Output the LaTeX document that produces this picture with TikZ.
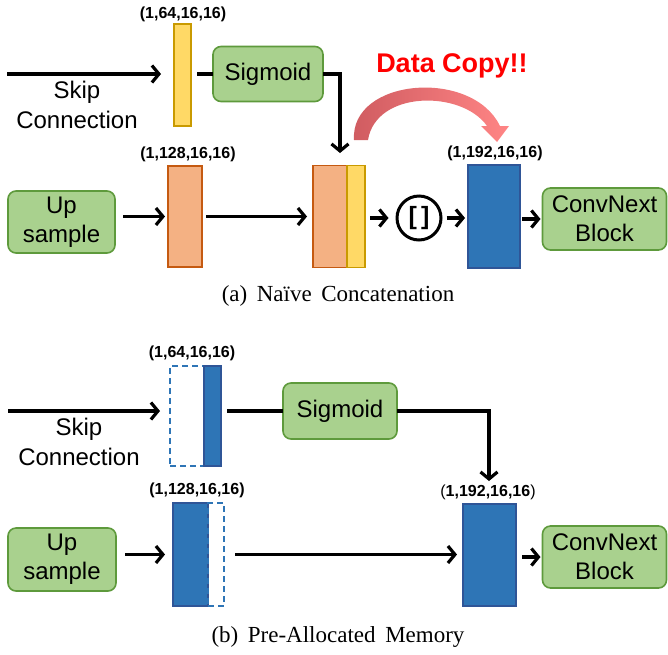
\documentclass[tikz,border=0pt]{standalone}
\usepackage{fontspec}
\setmainfont{Liberation Sans}
\newfontfamily\capfont{Liberation Serif}
\usetikzlibrary{arrows.meta}
\definecolor{gfill}{HTML}{A9D18E}
\definecolor{gline}{HTML}{5E9A3C}
\definecolor{yfill}{HTML}{FFD966}
\definecolor{yline}{HTML}{C99A00}
\definecolor{ofill}{HTML}{F4B183}
\definecolor{oline}{HTML}{C55A11}
\definecolor{bfill}{HTML}{2E75B6}
\definecolor{bline}{HTML}{2F5597}
\definecolor{redA}{HTML}{CF5B60}
\definecolor{redB}{HTML}{FF8585}
\tikzset{
  box/.style={draw, rectangle, inner sep=0pt, outer sep=0pt, line width=1.6pt},
  greenbox/.style={box, fill=gfill, draw=gline, rounded corners=8pt, align=center,
     font=\fontsize{24}{29}\selectfont},
  ybar/.style={box, fill=yfill, draw=yline},
  obar/.style={box, fill=ofill, draw=oline},
  bbar/.style={box, fill=bfill, draw=bline},
  dbar/.style={box, draw=bfill, dashed, dash pattern=on 6pt off 4pt},
  arr/.style={line width=3.2pt, -{Straight Barb[length=7pt,width=17pt]}},
  conn/.style={line width=3.2pt},
  dimlab/.style={font=\bfseries\fontsize{16}{18}\selectfont, inner sep=0pt},
  txt/.style={align=center, font=\fontsize{24}{30}\selectfont, inner sep=0pt},
  caplab/.style={font=\capfont\fontsize{23}{25}\selectfont, inner sep=0pt},
}
\begin{document}
\begin{tikzpicture}[x=1pt,y=-1pt]
\useasboundingbox (0,0) rectangle (668,654);
% ---------- (a) ----------
\node[ybar, minimum width=17pt, minimum height=102pt] (yel) at (182.5,75) {};
\node[greenbox, minimum width=110pt, minimum height=55pt] (sig1) at (268,74) {Sigmoid};
\node[obar, minimum width=34pt, minimum height=101pt] (org1) at (185,216.5) {};
\node[greenbox, minimum width=107pt, minimum height=62pt] (up1) at (61.5,222) {Up\\sample};
\node[obar, minimum width=34pt, minimum height=102pt] (catO) at (330,216.5) {};
\node[ybar, minimum width=18pt, minimum height=102pt] (catY) at (356,216.5) {};
\node[draw, circle, line width=3pt, minimum size=44pt, inner sep=0pt,
      font=\bfseries\fontsize{25}{25}\selectfont] (circ) at (419,218) {[\,]};
\node[bbar, minimum width=52pt, minimum height=103pt] (blue1) at (494,216.5) {};
\node[greenbox, minimum width=124pt, minimum height=62pt] (conv1) at (604.5,219) {ConvNext\\Block};

\coordinate (s1) at (7,74);
\coordinate (k1) at (340,153);
\draw[arr, shorten >=13pt] (s1) -- (s1 -| yel.west);
\draw[conn, shorten <=6pt] (yel.east |- sig1.west) -- (sig1.west);
\draw[arr] (sig1.east) -| (k1);
\draw[arr, shorten <=8pt, shorten >=3pt] (up1.east |- org1.west) -- (org1.west);
\draw[arr, shorten <=4pt, shorten >=6pt] (org1.east) -- (catO.west);
\draw[arr, shorten <=5pt, shorten >=7pt] (catY.east |- circ.west) -- (circ.west);
\draw[arr, shorten <=4pt, shorten >=3pt] (circ.east) -- (blue1.west |- circ.east);
\draw[arr, shorten <=2pt, shorten >=2pt] (blue1.east |- conv1.west) -- (conv1.west);

\node[dimlab] (la1) at (183,14) {(1,64,16,16)};
\node[dimlab] (la2) at (188,154) {(1,128,16,16)};
\node[dimlab] (la3) at (495,153) {(1,192,16,16)};
\node[txt] (sk1) at (77,105) {Skip\\Connection};
\node[font=\bfseries\fontsize{27}{30}\selectfont, text=red, inner sep=0pt] (dc) at (452,66) {Data Copy!!};
\shade[left color=redA, right color=redB]
  (354,140) .. controls (350,78) and (472,68) .. (500,126) -- (509,126) -- (497,142)
  -- (481,126) -- (487,126) .. controls (462,90) and (376,90) .. (368,140) -- cycle;
\node[caplab] (capa) at (338,296) {(a)\, Naïve\, Concatenation};

% ---------- (b) ----------
\node[dbar, minimum width=34pt, minimum height=100pt] (dash1) at (187,416) {};
\node[bbar, minimum width=17pt, minimum height=100pt] (bb1) at (212.5,416) {};
\node[greenbox, minimum width=114pt, minimum height=56pt] (sig2) at (340,411) {Sigmoid};
\node[bbar, minimum width=35pt, minimum height=103pt] (ub2) at (190.5,554.5) {};
\node[dbar, minimum width=16pt, minimum height=103pt] (dash2) at (216,554.5) {};
\node[greenbox, minimum width=108pt, minimum height=63pt] (up2) at (62,559.5) {Up\\sample};
\node[bbar, minimum width=53pt, minimum height=102pt] (blue2) at (489.5,555) {};
\node[greenbox, minimum width=124pt, minimum height=62pt] (conv2) at (604.5,557) {ConvNext\\Block};

\coordinate (s2) at (8,411);
\coordinate (k2) at (489,481);
\draw[arr, shorten >=10pt] (s2) -- (s2 -| dash1.west);
\draw[conn, shorten <=6pt] (bb1.east |- sig2.west) -- (sig2.west);
\draw[arr] (sig2.east) -| (k2);
\draw[arr, shorten <=9pt, shorten >=8pt] (up2.east |- ub2.west) -- (ub2.west);
\draw[arr, shorten <=11pt, shorten >=6pt] (dash2.east) -- (blue2.west |- dash2.east);
\draw[arr, shorten <=6pt, shorten >=2pt] (blue2.east |- conv2.west) -- (conv2.west);

\node[dimlab] (lb1) at (192,353) {(1,64,16,16)};
\node[dimlab] (lb2) at (197,490) {(1,128,16,16)};
\node[dimlab] (lb3) at (488,492) {\mdseries(\bfseries 1,192,16,16\mdseries)};
\node[txt] (sk2) at (79,442) {Skip\\Connection};
\node[caplab] (capb) at (338,637) {(b)\, Pre-Allocated\, Memory};
\end{tikzpicture}
\end{document}
